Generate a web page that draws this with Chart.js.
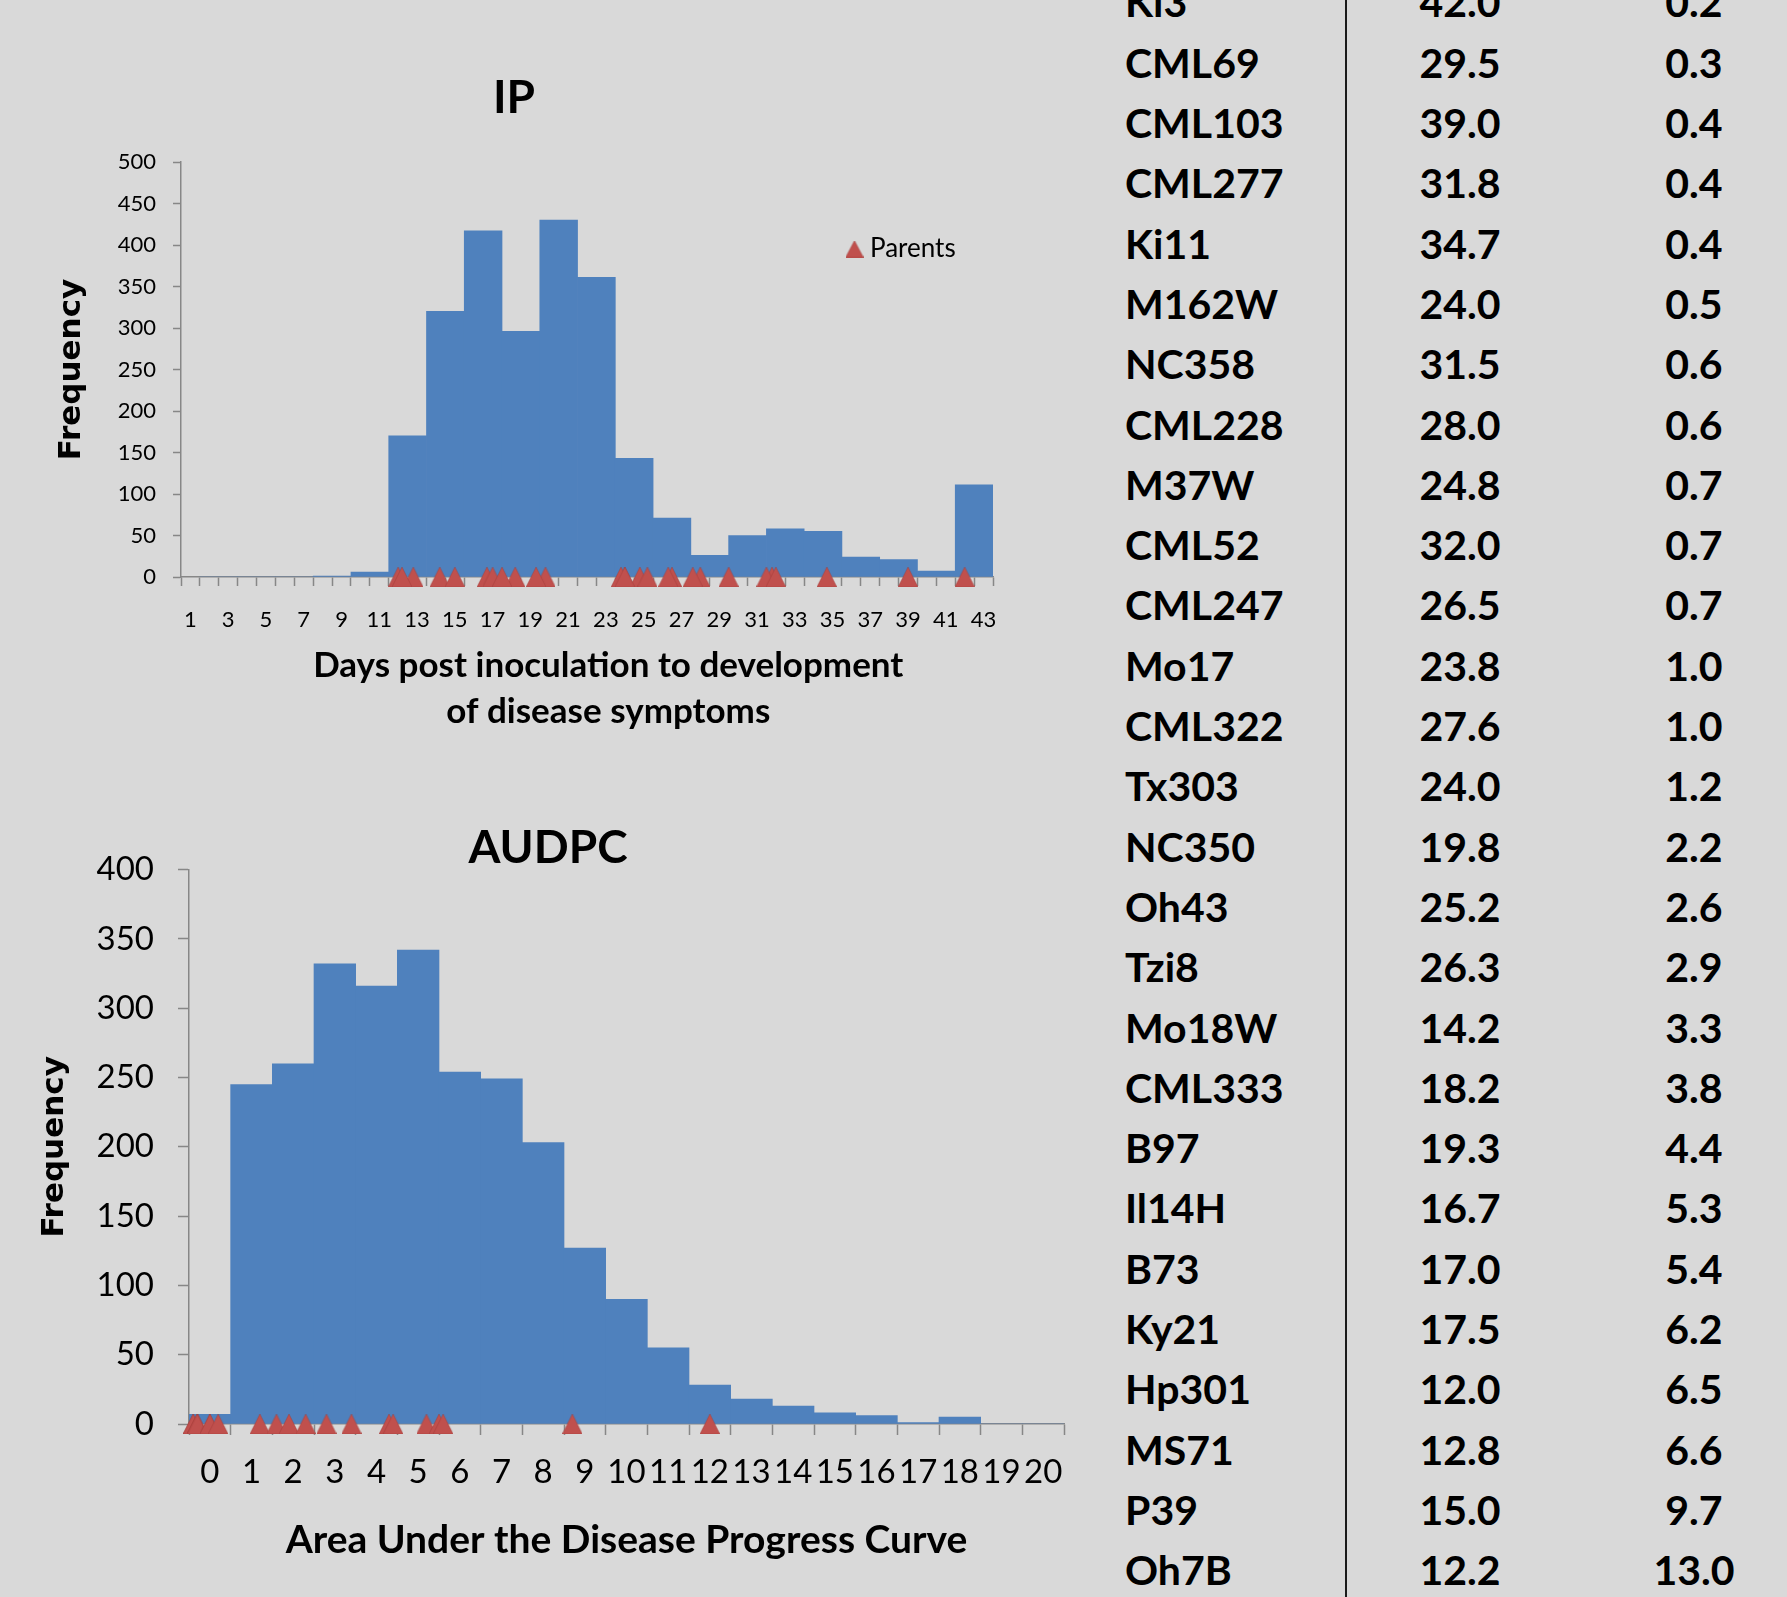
<!DOCTYPE html>
<html>
<head>
<meta charset="utf-8">
<script src="https://cdn.jsdelivr.net/npm/chart.js@4.4.0/dist/chart.umd.min.js"></script>
<style>
html,body{margin:0;padding:0;background:#d9d9d9;}
body{width:1787px;height:1597px;position:relative;overflow:hidden;font-family:Lato,sans-serif;}
#ipWrap{position:absolute;left:35px;top:0;}
#auWrap{position:absolute;left:32px;top:770px;}
#vline{position:absolute;left:1345px;top:0;width:2px;height:1597px;background:#1a1a1a;}
.cell{position:absolute;height:60px;line-height:60px;font-family:Lato,sans-serif;font-weight:700;font-size:41px;color:#000;white-space:nowrap;}
</style>
</head>
<body>
<div id="ipWrap"><canvas id="ipChart" width="1000" height="760"></canvas></div>
<div id="auWrap"><canvas id="auChart" width="1052" height="827"></canvas></div>
<div id="vline"></div>
<div id="table"></div>
<script>
// ---------------- data ----------------
const ipCategories = [1,2,3,4,5,6,7,8,9,10,11,12,13,14,15,16,17,18,19,20,21,22,23,24,25,26,27,28,29,30,31,32,33,34,35,36,37,38,39,40,41,42,43];
const ipBinStartDay = [2,4,6,8,10,12,14,16,18,20,22,24,26,28,30,32,34,36,38,40,42];
const ipCounts      = [0,0,0,1,6,170,320,417,296,430,361,143,71,26,50,58,55,24,21,7,111];

const audpcCategories = [0,1,2,3,4,5,6,7,8,9,10,11,12,13,14,15,16,17,18,19,20];
const audpcCounts     = [7,245,260,332,316,342,254,249,203,127,90,55,28,18,13,8,6,1,5,0,0];

const parentNames = ['Ki3','CML69','CML103','CML277','Ki11','M162W','NC358','CML228','M37W','CML52','CML247','Mo17','CML322','Tx303','NC350','Oh43','Tzi8','Mo18W','CML333','B97','Il14H','B73','Ky21','Hp301','MS71','P39','Oh7B'];
const parentIP    = [42.0,29.5,39.0,31.8,34.7,24.0,31.5,28.0,24.8,32.0,26.5,23.8,27.6,24.0,19.8,25.2,26.3,14.2,18.2,19.3,16.7,17.0,17.5,12.0,12.8,15.0,12.2];
const parentAUDPC = [0.2,0.3,0.4,0.4,0.4,0.5,0.6,0.6,0.7,0.7,0.7,1.0,1.0,1.2,2.2,2.6,2.9,3.3,3.8,4.4,5.3,5.4,6.2,6.5,6.6,9.7,13.0];

// ---------------- styles ----------------
const BAR = '#4F81BD';
const RED = '#C0504D';
const AXIS = '#878787';

function makeTriangle(w, h, color) {
  const c = document.createElement('canvas');
  c.width = w; c.height = h;
  const g = c.getContext('2d');
  g.beginPath(); g.moveTo(w / 2, 0); g.lineTo(w, h); g.lineTo(0, h); g.closePath();
  g.fillStyle = color; g.fill();
  g.strokeStyle = 'rgba(150,55,52,0.35)'; g.lineWidth = 1; g.stroke();
  return c;
}
const tri = makeTriangle(20, 20, RED);
const triLegend = makeTriangle(18, 17, RED);

const parentsLegend = {
  id: 'parentsLegend',
  afterDraw(chart, args, opts) {
    if (!opts || !opts.display) return;
    const ds = chart.data.datasets.find(d => d.type === 'scatter');
    const ctx = chart.ctx;
    ctx.save();
    ctx.drawImage(triLegend, opts.x - 9, opts.y - 8.5);
    ctx.font = opts.font;
    ctx.fillStyle = '#000';
    ctx.textBaseline = 'middle';
    ctx.textAlign = 'left';
    ctx.fillText(ds.label, opts.textX, opts.y);
    ctx.restore();
  }
};

function boundaryTicks(n, labelEvery) {
  const t = [];
  for (let i = 0; i <= n; i++) t.push({ value: i + 0.5 });
  for (let i = 1; i <= n; i += labelEvery) t.push({ value: i });
  t.sort((a, b) => a.value - b.value);
  return t;
}

function makeChart(id, cfg) {
  return new Chart(document.getElementById(id), {
    type: 'bar',
    data: {
      datasets: [
        { type: 'scatter', label: 'Parents', data: cfg.points, pointStyle: tri, pointRadius: 10, clip: false, order: 0 },
        { type: 'bar', label: 'Frequency', data: cfg.bars, backgroundColor: BAR, borderWidth: 0,
          barThickness: 'flex', categoryPercentage: 1, barPercentage: 1, order: 1 }
      ]
    },
    options: {
      responsive: false,
      animation: false,
      layout: { padding: { left: 0, top: 0, right: cfg.padRight, bottom: 0 } },
      plugins: {
        legend: { display: false },
        tooltip: { enabled: false },
        title: {
          display: true, text: cfg.title, color: '#000',
          font: { family: 'Lato', weight: 'bold', size: cfg.titleSize, lineHeight: cfg.titleLH },
          padding: cfg.titlePad
        },
        parentsLegend: cfg.legend
      },
      scales: {
        x: {
          type: 'linear', position: 'bottom', offset: false, bounds: 'data',
          min: 0.5, max: cfg.nCat + 0.5,
          afterBuildTicks: (s) => { s.ticks = boundaryTicks(cfg.nCat, cfg.labelEvery); },
          afterFit: (s) => { s.height = cfg.xHeight; },
          ticks: {
            autoSkip: false, maxRotation: 0, minRotation: 0, color: '#000',
            font: { family: 'Lato', size: cfg.xTickSize },
            padding: cfg.xTickPad,
            callback: (v) => Number.isInteger(v) ? String(cfg.categories[v - 1]) : ''
          },
          grid: {
            drawOnChartArea: false, offset: false, tickLength: cfg.xTickLen, tickWidth: 1.5,
            tickColor: (c) => (c.tick && Number.isInteger(c.tick.value)) ? 'rgba(0,0,0,0)' : AXIS
          },
          border: { display: true, color: AXIS, width: 1.5 },
          title: {
            display: true, text: cfg.xTitle, color: '#000',
            font: { family: 'Lato', weight: 'bold', size: cfg.xTitleSize, lineHeight: cfg.xTitleLH },
            padding: { top: 0, bottom: cfg.xTitlePadBottom }
          }
        },
        y: {
          type: 'linear', position: 'left', min: 0, max: cfg.yMax,
          afterFit: (s) => { s.width = cfg.yWidth; },
          ticks: { stepSize: 50, color: '#000', font: { family: 'Lato', size: cfg.yTickSize }, padding: cfg.yTickPad },
          grid: { drawOnChartArea: false, tickLength: cfg.yTickLen, tickWidth: 1.5, tickColor: AXIS },
          border: { display: true, color: AXIS, width: 1.5 },
          title: {
            display: true, text: 'Frequency', color: '#000',
            font: { family: 'DejaVu Sans', weight: 'bold', size: 31, lineHeight: 1.2 },
            padding: { top: cfg.yTitlePadTop, bottom: 0 }
          }
        }
      }
    },
    plugins: [parentsLegend]
  });
}

// IP histogram: 2-day bins spanning two categories
const ipBars = ipBinStartDay.map((d, i) => ({ x: (d + d + 1) / 2, y: ipCounts[i] }));
const ipPoints = parentIP.filter(v => v > 0.5 && v < ipCategories.length + 0.5).map(v => ({ x: v, y: 0 }));

makeChart('ipChart', {
  nCat: ipCategories.length, categories: ipCategories, labelEvery: 2,
  bars: ipBars, points: ipPoints,
  title: 'IP', titleSize: 46, titleLH: 1, titlePad: { top: 75, bottom: 41 },
  padRight: 42,
  xHeight: 183, xTickLen: 9, xTickSize: 22, xTickPad: 21,
  xTitle: ['     Days post inoculation to development', '     of disease symptoms'],
  xTitleSize: 35, xTitleLH: 1.3, xTitlePadBottom: 26,
  yMax: 500, yWidth: 146, yTickLen: 8, yTickSize: 22, yTickPad: 17, yTitlePadTop: 18,
  legend: { display: true, x: 819.5, y: 249, textX: 835, font: '400 26px Lato' }
});

// AUDPC histogram: one bin per category
const auBars = audpcCounts.map((c, i) => ({ x: i + 1, y: c }));
const auPoints = parentAUDPC.filter(v => v > 0.5 && v < audpcCategories.length + 0.5).map(v => ({ x: v, y: 0 }));

makeChart('auChart', {
  nCat: audpcCategories.length, categories: audpcCategories, labelEvery: 1,
  bars: auBars, points: auPoints,
  title: 'AUDPC', titleSize: 46, titleLH: 0.95, titlePad: { top: 56, bottom: 0 },
  padRight: 20,
  xHeight: 173, xTickLen: 11, xTickSize: 33, xTickPad: 18,
  xTitle: 'Area Under the Disease Progress Curve',
  xTitleSize: 39, xTitleLH: 1.2, xTitlePadBottom: 33,
  yMax: 400, yWidth: 157, yTickLen: 11, yTickSize: 33, yTickPad: 24, yTitlePadTop: 4,
  legend: { display: false }
});

// Parents table
const table = document.getElementById('table');
parentNames.forEach((name, i) => {
  const top = 2.4 + i * 60.3 - 30;
  const cells = [
    { text: name, left: 1125, width: 220, align: 'left' },
    { text: parentIP[i].toFixed(1), left: 1380, width: 160, align: 'center' },
    { text: parentAUDPC[i].toFixed(1), left: 1614, width: 160, align: 'center' }
  ];
  cells.forEach(c => {
    const d = document.createElement('div');
    d.className = 'cell';
    d.textContent = c.text;
    d.style.left = c.left + 'px';
    d.style.width = c.width + 'px';
    d.style.textAlign = c.align;
    d.style.top = top + 'px';
    table.appendChild(d);
  });
});
</script>
</body>
</html>
